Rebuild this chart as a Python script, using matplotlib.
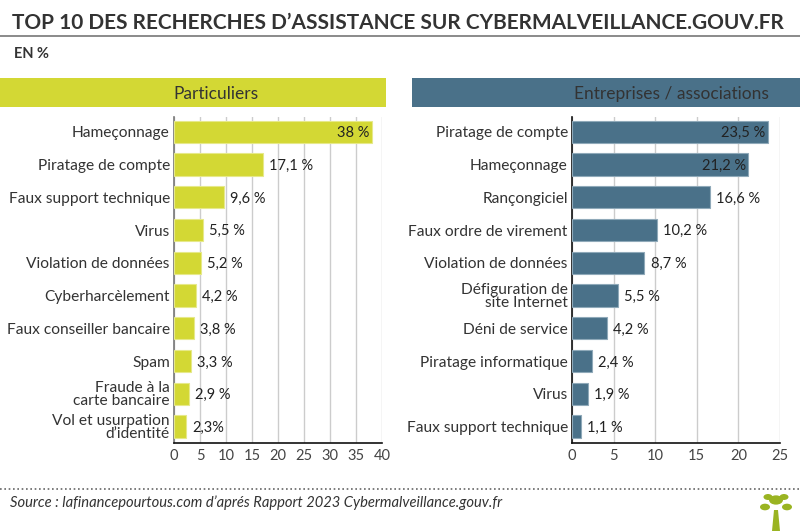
import matplotlib.pyplot as plt
from matplotlib.patches import Rectangle, Circle, Polygon

# ------------------------------------------------------------------
# data
# ------------------------------------------------------------------
perso_labels = ["Hameçonnage", "Piratage de compte", "Faux support technique", "Virus",
                "Violation de données", "Cyberharcèlement", "Faux conseiller bancaire",
                "Spam", "Fraude à la\ncarte bancaire", "Vol et usurpation\nd’identité"]
perso_values = [38, 17.1, 9.6, 5.5, 5.2, 4.2, 3.8, 3.3, 2.9, 2.3]
perso_texts = ["38 %", "17,1 %", "9,6 %", "5,5 %", "5,2 %", "4,2 %", "3,8 %", "3,3 %", "2,9 %", "2,3%"]

pro_labels = ["Piratage de compte", "Hameçonnage", "Rançongiciel", "Faux ordre de virement",
              "Violation de données", "Défiguration de\nsite Internet", "Déni de service",
              "Piratage informatique", "Virus", "Faux support technique"]
pro_values = [23.5, 21.2, 16.6, 10.2, 8.7, 5.5, 4.2, 2.4, 1.9, 1.1]
pro_texts = ["23,5 %", "21,2 %", "16,6 %", "10,2 %", "8,7 %", "5,5 %", "4,2 %", "2,4 %", "1,9 %", "1,1 %"]

perso_ticks = [0, 5, 10, 15, 20, 25, 30, 35, 40]
pro_ticks = [0, 5, 10, 15, 20, 25]

GREEN = "#d3d834"
BLUE = "#4a7189"
TXT = "#333333"

plt.rcParams['font.family'] = ['Lato', 'DejaVu Sans']

W, H = 800, 531
fig = plt.figure(figsize=(8, 5.31), dpi=100)


def fx(px):
    return px / W


def fy(py):
    return 1 - py / H


# title + rule
fig.text(fx(12), fy(29), "TOP 10 DES RECHERCHES D’ASSISTANCE SUR CYBERMALVEILLANCE.GOUV.FR",
         fontsize=15.0, fontweight='bold', color=TXT, va='baseline')
fig.add_artist(plt.Line2D([0, 1], [fy(35.5), fy(35.5)], color="#777777", lw=1.2))
fig.text(fx(14), fy(58), "EN %", fontsize=10.5, fontweight='bold', color=TXT, va='baseline')

# header bands
fig.add_artist(Rectangle((fx(0), fy(107)), fx(386), fy(78) - fy(107),
                         transform=fig.transFigure, color=GREEN, lw=0))
fig.add_artist(Rectangle((fx(412), fy(107)), fx(388), fy(78) - fy(107),
                         transform=fig.transFigure, color=BLUE, lw=0))
fig.text(fx(216), fy(94), "Particuliers", fontsize=12.5, color=TXT, ha='center', va='center')
fig.text(fx(671), fy(94), "Entreprises / associations", fontsize=12.5, color=TXT,
         ha='center', va='center')


def draw_panel(rect, labels, values, texts, ticks, color, edge, inside, spine_col):
    ax = fig.add_axes(rect)
    y = list(range(len(values)))
    ax.barh(y, values, height=0.68, color=color, edgecolor=edge, lw=0.8, zorder=3)
    xmax = ticks[-1]
    for i, (v, t) in enumerate(zip(values, texts)):
        if i < inside:
            ax.text(v - xmax * 0.012, i + 0.04, t, ha='right', va='center', fontsize=10.5,
                    color="#222222", zorder=4)
        else:
            ax.text(v + xmax * 0.03, i + 0.04, t, ha='left', va='center', fontsize=10.5,
                    color="#222222", zorder=4)
    ax.set_xlim(0, xmax)
    ax.set_ylim(9.5, -0.45)
    ax.set_yticks(y)
    ax.set_yticklabels(labels, fontsize=11.2, color=TXT, linespacing=0.92)
    ax.set_xticks(ticks)
    ax.set_xticklabels([str(t) for t in ticks], fontsize=10.5, color="#444444")
    ax.tick_params(axis='y', length=0, pad=3)
    ax.tick_params(axis='x', length=0, pad=4)
    ax.grid(axis='x', color="#cccccc", lw=1.0, zorder=0)
    for s in ['top', 'right']:
        ax.spines[s].set_visible(False)
    ax.spines['left'].set_color(spine_col)
    ax.spines['left'].set_linewidth(1.2)
    ax.spines['bottom'].set_color("#111111")
    ax.spines['bottom'].set_linewidth(1.2)
    ax.set_facecolor('none')
    return ax


draw_panel([fx(174), fy(443), fx(208), fy(117) - fy(443)], perso_labels, perso_values,
           perso_texts, perso_ticks, GREEN, "#e6e98a", 1, "#777777")
draw_panel([fx(572), fy(443), fx(208), fy(117) - fy(443)], pro_labels, pro_values,
           pro_texts, pro_ticks, BLUE, "#8fa9b9", 2, "#111111")

# footer
fig.add_artist(plt.Line2D([0, 1], [fy(489), fy(489)], color="#666666", lw=1.2,
                          linestyle=(0, (1, 1.6))))
fig.text(fx(10), fy(507), "Source : lafinancepourtous.com d’aprés Rapport 2023 Cybermalveillance.gouv.fr",
         fontsize=10.6, style='italic', color=TXT, va='baseline')

# small tree logo, bottom right
LOGO = "#9ab422"
fig.add_artist(Polygon([(fx(772), fy(531)), (fx(780), fy(531)), (fx(778), fy(510)),
                        (fx(774), fy(510))], closed=True, transform=fig.transFigure,
                       color=LOGO, lw=0))
for cx, cy, r in [(776, 500, 7), (765, 507, 5), (787, 507, 5), (768, 497, 4.5), (784, 497, 4.5)]:
    fig.add_artist(Circle((fx(cx), fy(cy)), r / W, transform=fig.transFigure, color=LOGO, lw=0))

fig.savefig("out.png", dpi=100, facecolor='white')
